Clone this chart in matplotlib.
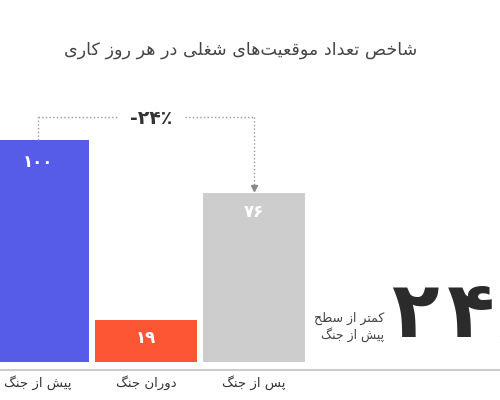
import matplotlib
matplotlib.use("Agg")
import matplotlib.pyplot as plt

# ---------------- data ----------------
categories = ["پیش از جنگ", "دوران جنگ", "پس از جنگ"]
values = [100, 19, 76]
value_labels = ["۱۰۰", "۱۹", "۷۶"]
change_label = "-۲۴٪"
big_label = "۲\u200a۴٪"
side_lines = ["کمتر از سطح", "پیش از جنگ"]
title = "شاخص تعداد موقعیت\u200cهای شغلی در هر روز کاری"
colors = ["#575CE8", "#FD5635", "#CDCDCD"]

# ---------------- minimal Persian shaping ----------------
FORMS = {
    'ا': ('\uFE8D', '\uFE8E', None, None),
    'ب': ('\uFE8F', '\uFE90', '\uFE91', '\uFE92'),
    'پ': ('\uFB56', '\uFB57', '\uFB58', '\uFB59'),
    'ت': ('\uFE95', '\uFE96', '\uFE97', '\uFE98'),
    'ج': ('\uFE9D', '\uFE9E', '\uFE9F', '\uFEA0'),
    'ح': ('\uFEA1', '\uFEA2', '\uFEA3', '\uFEA4'),
    'خ': ('\uFEA5', '\uFEA6', '\uFEA7', '\uFEA8'),
    'د': ('\uFEA9', '\uFEAA', None, None),
    'ر': ('\uFEAD', '\uFEAE', None, None),
    'ز': ('\uFEAF', '\uFEB0', None, None),
    'س': ('\uFEB1', '\uFEB2', '\uFEB3', '\uFEB4'),
    'ش': ('\uFEB5', '\uFEB6', '\uFEB7', '\uFEB8'),
    'ص': ('\uFEB9', '\uFEBA', '\uFEBB', '\uFEBC'),
    'ط': ('\uFEC1', '\uFEC2', '\uFEC3', '\uFEC4'),
    'ع': ('\uFEC9', '\uFECA', '\uFECB', '\uFECC'),
    'غ': ('\uFECD', '\uFECE', '\uFECF', '\uFED0'),
    'ق': ('\uFED5', '\uFED6', '\uFED7', '\uFED8'),
    'ک': ('\uFB8E', '\uFB8F', '\uFB90', '\uFB91'),
    'گ': ('\uFB92', '\uFB93', '\uFB94', '\uFB95'),
    'ل': ('\uFEDD', '\uFEDE', '\uFEDF', '\uFEE0'),
    'م': ('\uFEE1', '\uFEE2', '\uFEE3', '\uFEE4'),
    'ن': ('\uFEE5', '\uFEE6', '\uFEE7', '\uFEE8'),
    'ه': ('\uFEE9', '\uFEEA', '\uFEEB', '\uFEEC'),
    'و': ('\uFEED', '\uFEEE', None, None),
    'ی': ('\uFBFC', '\uFBFD', '\uFBFE', '\uFBFF'),
}


def dual(c):
    return c in FORMS and FORMS[c][2] is not None


def fa(s):
    out = []
    n = len(s)
    for i, c in enumerate(s):
        if c not in FORMS:
            if c != '\u200c':
                out.append(c)
            continue
        prev = s[i - 1] if i > 0 else ''
        nxt = s[i + 1] if i + 1 < n else ''
        pj = dual(prev)
        nj = dual(c) and (nxt in FORMS)
        iso, fin, ini, med = FORMS[c]
        if pj and nj:
            g = med
        elif pj:
            g = fin
        elif nj:
            g = ini
        else:
            g = iso
        out.append(g)
    return ''.join(reversed(out))


plt.rcParams['font.family'] = ['DejaVu Sans']

fig = plt.figure(figsize=(5, 4), dpi=100)
ax = fig.add_axes([0, 0, 1, 1])
ax.set_xlim(-0.352, 4.278)
ax.set_ylim(-17.12, 163.06)
ax.axis('off')

x = list(range(len(values)))
ax.bar(x, values, width=0.944, color=colors, zorder=2)

# baseline
ax.axhline(-3.6, color='#CCCCCC', lw=1.5, zorder=1)

# category labels
for xi, c in zip(x, categories):
    ax.text(xi, -9.2, fa(c), ha='center', va='center', fontsize=9.5, color='#333333')

# value labels
offs = [10, 8, 8.5]
for xi, v, lab, o in zip(x, values, value_labels, offs):
    ax.text(xi, v - o, lab, ha='center', va='center', fontsize=12,
            fontweight='bold', color='white', zorder=3)

# dotted connector
yl = 110.4
lc = '#999999'
ax.plot([0, 0], [values[0], yl], ls=':', color=lc, lw=1)
ax.plot([0, 0.74], [yl, yl], ls=':', color=lc, lw=1)
ax.plot([1.36, 2], [yl, yl], ls=':', color=lc, lw=1)
ax.plot([2, 2], [yl, values[2] + 3], ls=':', color=lc, lw=1)
ax.plot([2], [values[2] + 2.5], marker='v', color='#888888', markersize=5)
ax.text(1.05, 109.5, change_label, ha='center', va='center', fontsize=13.5,
        fontweight='bold', color='#333333')

# side annotation
ax.text(3.204, 19.8, fa(side_lines[0]), ha='right', va='center', fontsize=9, color='#444444')
ax.text(3.204, 12.2, fa(side_lines[1]), ha='right', va='center', fontsize=9, color='#444444')
ax.text(3.28, 21.2, big_label, ha='left', va='center', fontsize=56,
        fontweight='bold', color='#2B2B2B')

# title
fig.text(0.482, 0.875, fa(title), ha='center', va='center', fontsize=12.6, color='#444444')

fig.savefig('out.png', dpi=100, facecolor='white')
